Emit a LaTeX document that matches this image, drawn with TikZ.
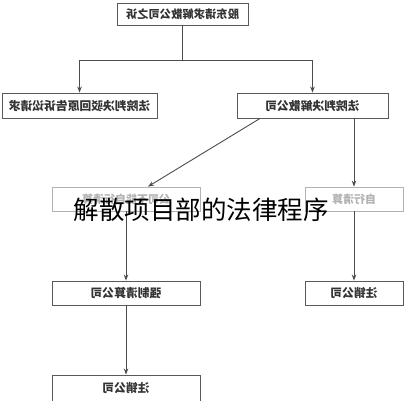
\documentclass[tikz,border=0pt]{standalone}
\usepackage{fontspec}
\newfontfamily\cjk{Noto Sans CJK SC}
\usetikzlibrary{arrows.meta}
\begin{document}
\begin{tikzpicture}[x=1pt,y=-1pt,
  box/.style={draw=black!65,line width=0.9pt,fill=white,inner sep=0pt,font=\cjk\bfseries\fontsize{11.8}{13}\selectfont,text=black!80},
  fadedbox/.style={draw=black!30,line width=0.8pt,fill=white,inner sep=0pt,font=\cjk\bfseries\fontsize{11}{13}\selectfont,text=black!30},
  conn/.style={draw=black!70,line width=0.9pt},
  arr/.style={conn,-{Stealth[length=6pt,width=4.5pt]}}]
\useasboundingbox (0,0) rectangle (404,400);
\fill[white] (0,0) rectangle (404,400);
\newcommand{\mir}[1]{\scalebox{-1}[1]{#1}}
\node[box,minimum width=131,minimum height=22,font=\cjk\bfseries\fontsize{11.3}{13}\selectfont] (top) at (182.5,14) {\mir{股东请求解散公司之诉}};
\node[box,minimum width=155,minimum height=25] (reject) at (79.5,105.5) {\mir{法院判决驳回原告诉讼请求}};
\node[box,minimum width=151,minimum height=25] (dissolve) at (312.5,105.5) {\mir{法院判决解散公司}};
\node[fadedbox,minimum width=148,minimum height=24] (cannot) at (126,199) {\mir{公司不能自行清算}};
\node[fadedbox,minimum width=98,minimum height=24] (self) at (354,199) {\mir{自行清算}};
\node[box,minimum width=148,minimum height=24] (forced) at (126,293) {\mir{强制清算公司}};
\node[box,minimum width=98,minimum height=24] (cancelR) at (354,293) {\mir{注销公司}};
\node[box,minimum width=148,minimum height=26] (cancelL) at (126,388) {\mir{注销公司}};
\coordinate (jl) at (79.5,60);
\coordinate (jr) at (312.5,60);
\draw[conn] (top.south) -- (top.south |- jl);
\draw[conn] (jl) -- (jr);
\draw[arr] (jl) -- (reject.north);
\draw[arr] (jr) -- (dissolve.north);
\draw[arr] ([xshift=-52.5]dissolve.south) -- ([xshift=22]cannot.north);
\draw[arr] ([xshift=41.5]dissolve.south) -- (self.north);
\draw[arr] (cannot.south) -- (forced.north);
\draw[arr] (self.south) -- (cancelR.north);
\draw[arr] (forced.south) -- (cancelL.north);
\node[font=\cjk\fontsize{25.5}{28}\selectfont,inner sep=0pt] (title) at (201,210) {解散项目部的法律程序};
\end{tikzpicture}
\end{document}
